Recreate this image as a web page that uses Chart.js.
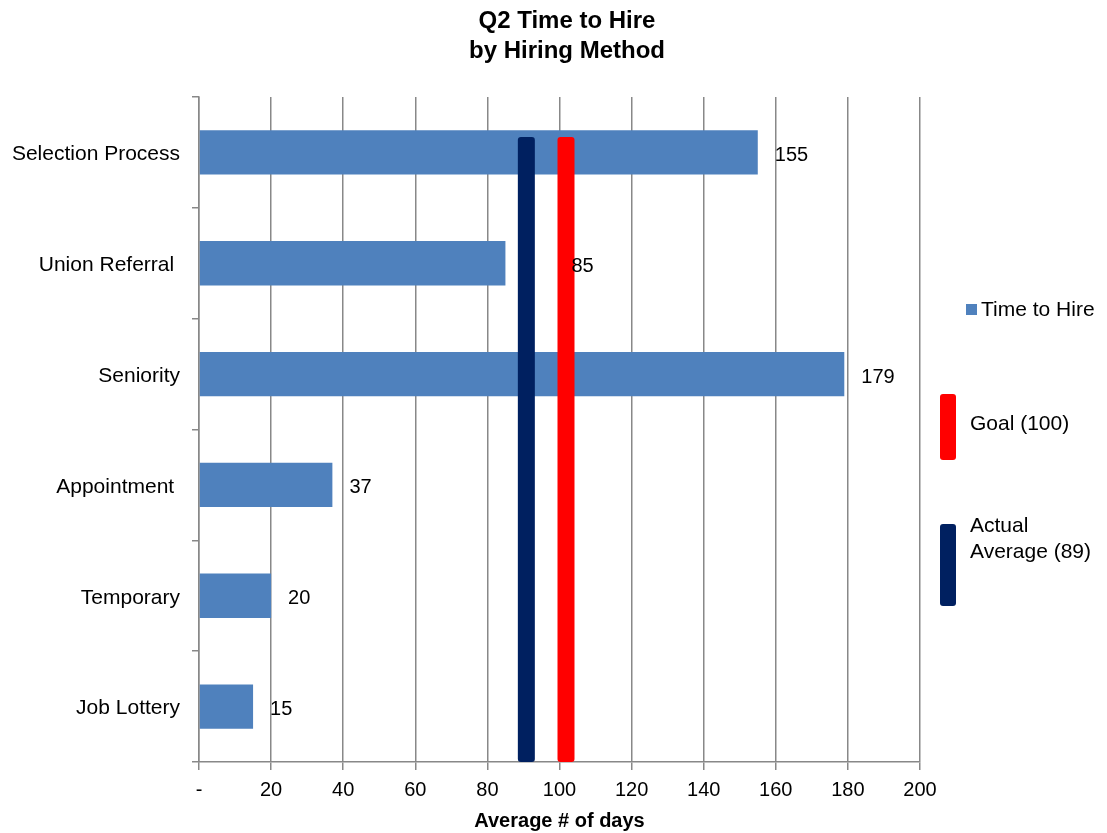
<!DOCTYPE html>
<html lang="en">
<head>
    <meta charset="UTF-8" />
    <title>Q2 Time to Hire by Hiring Method</title>
    <script src="https://cdn.jsdelivr.net/npm/chart.js"></script>
    <style>
        html, body {
            margin: 0;
            padding: 0;
            background: #ffffff;
        }
        .chart-wrap {
            position: relative;
            width: 1107px;
            height: 833px;
        }
    </style>
</head>
<body>
    <div class="chart-wrap"><canvas id="hireChart"></canvas></div>

    <script>
        // data
        const categories = ["Selection Process", "Union Referral ", "Seniority", "Appointment ", "Temporary", "Job Lottery"];
        const timeToHire = [155, 85, 179, 37, 20, 15];
        const seriesName = "Time to Hire";
        const titleLines = ["Q2 Time to Hire", "by Hiring Method"];
        const axisTitle = "Average # of days";
        const xMin = 0, xMax = 200, xStep = 20;
        const markerValues = [89, 100];
        const markerLabels = [["Actual", "Average (89)"], ["Goal (100)"]];

        const barColor = "#4f81bd";
        const markerColors = ["#002060", "#ff0000"];
        const gridColor = "#888888";
        const font = "Arial, 'Liberation Sans', sans-serif";

        // title, reference lines, value labels and legend
        const overlay = {
            id: "overlay",
            afterDatasetsDraw(chart) {
                const ctx = chart.ctx;
                const x = chart.scales.x;
                const area = chart.chartArea;
                const rects = markerValues.map((v, i) => {
                    const px = x.getPixelForValue(v);
                    return { left: px - 2, right: px + 15, color: markerColors[i] };
                });

                ctx.save();
                rects.forEach(r => {
                    ctx.fillStyle = r.color;
                    ctx.beginPath();
                    ctx.roundRect(r.left, area.top + 40, r.right - r.left, area.bottom - area.top - 40, 3);
                    ctx.fill();
                });

                const minLeft = Math.min(...rects.map(r => r.left));
                const maxRight = Math.max(...rects.map(r => r.right));
                ctx.font = "20px " + font;
                ctx.fillStyle = "#000";
                ctx.textBaseline = "middle";
                ctx.textAlign = "left";
                chart.getDatasetMeta(0).data.forEach((bar, i) => {
                    const txt = String(timeToHire[i]);
                    let tx = bar.x + 17;
                    const w = ctx.measureText(txt).width;
                    if (tx < maxRight && tx + w > minLeft) tx = maxRight - 3;
                    ctx.fillText(txt, tx, bar.y + 3);
                });
                ctx.restore();
            },
            afterDraw(chart) {
                const ctx = chart.ctx;
                ctx.save();
                ctx.fillStyle = "#000";
                ctx.textAlign = "center";
                ctx.textBaseline = "middle";
                ctx.font = "bold 24px " + font;
                titleLines.forEach((t, i) => ctx.fillText(t, 567, 21 + i * 30));

                // legend
                ctx.textAlign = "left";
                ctx.font = "21px " + font;
                ctx.fillStyle = barColor;
                ctx.fillRect(966, 304, 11, 11);
                ctx.fillStyle = "#000";
                ctx.fillText(seriesName, 981, 310);

                const boxes = [{ top: 524, bottom: 606, textY: 526 }, { top: 394, bottom: 460, textY: 424 }];
                markerLabels.forEach((lines, i) => {
                    const b = boxes[i];
                    ctx.fillStyle = markerColors[i];
                    ctx.beginPath();
                    ctx.roundRect(940, b.top, 16, b.bottom - b.top, 3);
                    ctx.fill();
                    ctx.fillStyle = "#000";
                    lines.forEach((l, j) => ctx.fillText(l, 970, b.textY + j * 26));
                });
                ctx.restore();
            }
        };

        new Chart(document.getElementById("hireChart"), {
            type: "bar",
            data: {
                labels: categories,
                datasets: [{
                    label: seriesName,
                    data: timeToHire,
                    backgroundColor: barColor,
                    barPercentage: 0.4,
                    categoryPercentage: 1.0,
                }],
            },
            options: {
                indexAxis: "y",
                responsive: true,
                maintainAspectRatio: false,
                animation: false,
                layout: { padding: { left: 10, right: 187, top: 97, bottom: 0 } },
                plugins: {
                    legend: { display: false },
                    tooltip: { enabled: false },
                },
                scales: {
                    x: {
                        min: xMin,
                        max: xMax,
                        afterFit: (s) => { s.height = 71; },
                        ticks: {
                            stepSize: xStep,
                            color: "#000",
                            padding: 8,
                            font: { family: font, size: 20 },
                            callback: (v) => (v === 0 ? "-" : v),
                        },
                        grid: { color: gridColor, lineWidth: 1.5, tickLength: 8 },
                        border: { color: gridColor, width: 1.5 },
                        title: {
                            display: true,
                            text: axisTitle,
                            color: "#000",
                            font: { family: font, size: 20, weight: "bold" },
                            padding: { top: 4, bottom: 0 },
                        },
                    },
                    y: {
                        afterFit: (s) => { s.width = 189; },
                        ticks: {
                            color: "#000",
                            padding: 12,
                            labelOffset: 2,
                            font: { family: font, size: 21 },
                        },
                        grid: { drawOnChartArea: false, color: gridColor, lineWidth: 1.5, tickLength: 7, offset: true },
                        border: { color: gridColor, width: 1.5 },
                    },
                },
            },
            plugins: [overlay],
        });
    </script>
</body>
</html>
